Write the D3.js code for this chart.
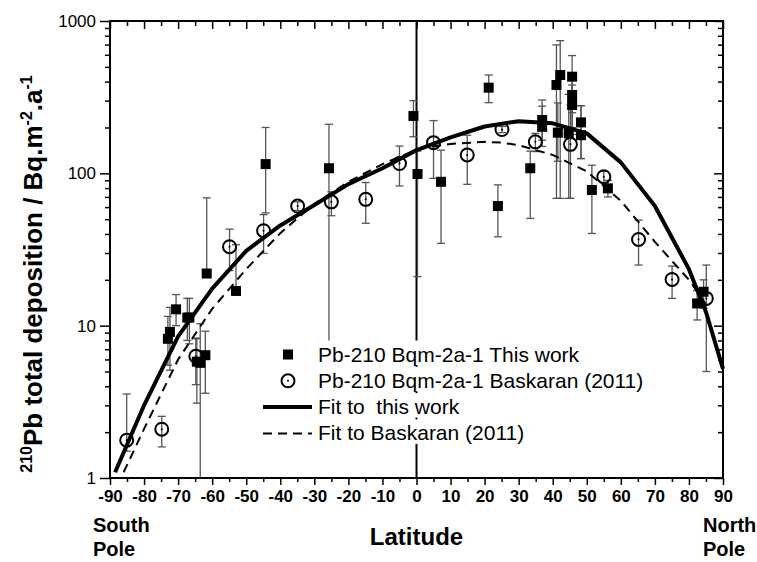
<!DOCTYPE html>
<html>
<head>
<meta charset="utf-8">
<script src="https://cdn.jsdelivr.net/npm/d3@7"></script>
<style>
    body { margin: 0; background: #fff; }
    svg text { font-family: Arial, "Liberation Sans", sans-serif; white-space: pre; }
</style>
</head>
<body>
<script>
// Pb-210 deposition measured in this work: [latitude, value, lower, upper]
const thisWork = [
    [-73.0, 8.2, 5.5, 11.5],
    [-72.4, 9.1, 5.1, 13.2],
    [-70.6, 12.8, 10.0, 16.0],
    [-67.3, 11.3, 8.0, 15.1],
    [-66.7, 11.3, 7.6, 15.1],
    [-64.5, 5.8, 3.1, 8.3],
    [-63.5, 5.7, 1.0, 10.3],
    [-62.0, 6.4, 3.6, 9.2],
    [-61.6, 22, 21, 69],
    [-53.0, 16.9, 16, 34],
    [-44.3, 115, 55, 200],
    [-25.7, 108, 7, 210],
    [-0.9, 238, 174, 300],
    [0.3, 99, 21, 140],
    [7.2, 88, 34.7, 142],
    [21.2, 365, 291, 442],
    [23.9, 61, 38.3, 84],
    [33.4, 108, 50.6, 140],
    [36.9, 224, 165, 303],
    [36.9, 202, 150, 276],
    [41.1, 380, 68.5, 697],
    [41.5, 185, 120, 290],
    [42.2, 442, 68.5, 743],
    [44.7, 183, 68.5, 330],
    [45.7, 431, 250, 593],
    [45.7, 327, 200, 420],
    [45.7, 281, 180, 380],
    [48.3, 216, 125, 278],
    [48.3, 178, 125, 278],
    [51.5, 77.7, 40.3, 113],
    [56.2, 79.7, 70, 90],
    [82.4, 14, 10.9, 17],
    [84.3, 16.7, 13, 20]
];

// Baskaran (2011) compilation: [latitude, value, lower, upper]
const baskaran = [
    [-85.1, 1.77, 1.5, 3.56],
    [-74.8, 2.09, 1.6, 2.54],
    [-64.8, 6.3, 4.1, 8.2],
    [-54.9, 33, 23, 43],
    [-44.9, 42, 29.8, 53.6],
    [-34.9, 61, 57, 65],
    [-25.0, 65, 52.7, 75.7],
    [-14.9, 67.5, 47, 87],
    [-5.0, 116, 82.6, 151],
    [5.0, 159, 92.7, 222],
    [14.9, 132, 84.7, 178],
    [25.1, 194, 185, 203],
    [34.9, 161, 139, 183],
    [45.2, 155, 68.5, 280],
    [55.0, 95, 87, 103],
    [65.2, 36.8, 25, 49.3],
    [75.05, 20.1, 15.1, 24.6],
    [85.1, 15.1, 5.0, 25]
];

// fitted curves
const fitLat = [-88.5, -80, -70, -60, -50, -40, -30, -20, -10, 0, 10, 20, 30, 40, 50, 60, 70, 80, 85, 90];
const fitThisWork = [1.09, 3.0, 8.5, 17.5, 31, 45.5, 62, 85, 108, 142, 172, 203, 220, 213, 183, 118, 61, 23.5, 12.3, 5.2];

const fitBaskLat = [-86, -80, -70, -60, -50, -40, -30, -20, -10, 0, 5, 10, 20, 25, 30, 40, 50, 60, 70, 80, 85];
const fitBaskaran = [1.09, 2.1, 6.0, 12.9, 23.5, 40.5, 63, 88, 115, 143, 150, 156, 161, 159, 153, 132, 103, 66, 35.5, 20, 13.8];

const xTicks = d3.range(-90, 91, 10);
const yTicks = [1, 10, 100, 1000];

const legendLabels = [
    'Pb-210 Bqm-2a-1 This work',
    'Pb-210 Bqm-2a-1 Baskaran (2011)',
    'Fit to  this work',
    'Fit to Baskaran (2011)'
];

drawChart();

function drawChart()
{
    const width = 757;
    const height = 562;
    const margin = {top: 21, right: 34, bottom: 84, left: 110};
    const innerW = width - margin.left - margin.right;
    const innerH = height - margin.top - margin.bottom;

    const svg = d3.select('body')
        .append('svg')
        .attr('width', width)
        .attr('height', height);

    const x = d3.scaleLinear().domain([-90, 90]).range([margin.left, margin.left + innerW]);
    const y = d3.scaleLog().domain([1, 1000]).range([margin.top + innerH, margin.top]);

    const minorY = [];
    [1, 10, 100].forEach(d => { for (let k = 2; k <= 9; k++) minorY.push(d * k); });
    const minorX = d3.range(-85, 90, 10);

    // axes
    const bottom = svg.append('g')
        .attr('transform', `translate(0,${margin.top + innerH})`)
        .call(d3.axisBottom(x).tickValues(xTicks).tickSize(7).tickSizeOuter(0).tickPadding(5));
    bottom.selectAll('text')
        .attr('font-size', 17)
        .attr('font-weight', 'bold')
        .attr('font-family', 'Arial, "Liberation Sans", sans-serif')
        .text(d => d);
    svg.append('g')
        .attr('transform', `translate(0,${margin.top + innerH})`)
        .call(d3.axisBottom(x).tickValues(minorX).tickSize(4).tickSizeOuter(0).tickFormat(''));

    svg.append('g')
        .attr('transform', `translate(0,${margin.top})`)
        .call(d3.axisTop(x).tickValues(xTicks).tickSize(-8).tickSizeOuter(0).tickFormat(''));
    svg.append('g')
        .attr('transform', `translate(0,${margin.top})`)
        .call(d3.axisTop(x).tickValues(minorX).tickSize(-5).tickSizeOuter(0).tickFormat(''));

    const left = svg.append('g')
        .attr('transform', `translate(${margin.left},0)`)
        .call(d3.axisLeft(y).tickValues(yTicks).tickSize(10).tickSizeOuter(0).tickFormat(d3.format('d')).tickPadding(4));
    left.selectAll('text')
        .attr('font-size', 17)
        .attr('font-family', 'Arial, "Liberation Sans", sans-serif');
    svg.append('g')
        .attr('transform', `translate(${margin.left},0)`)
        .call(d3.axisLeft(y).tickValues(minorY).tickSize(5).tickSizeOuter(0).tickFormat(''));

    svg.append('g')
        .attr('transform', `translate(${margin.left + innerW},0)`)
        .call(d3.axisRight(y).tickValues(yTicks).tickSize(-9).tickSizeOuter(0).tickFormat(''));
    svg.append('g')
        .attr('transform', `translate(${margin.left + innerW},0)`)
        .call(d3.axisRight(y).tickValues(minorY).tickSize(-5).tickSizeOuter(0).tickFormat(''));

    svg.selectAll('.domain').remove();
    svg.selectAll('.tick line').attr('stroke', '#000').attr('stroke-width', 1.5);

    // frame
    svg.append('rect')
        .attr('x', margin.left)
        .attr('y', margin.top)
        .attr('width', innerW)
        .attr('height', innerH)
        .attr('fill', 'none')
        .attr('stroke', '#000')
        .attr('stroke-width', 2);

    // zero latitude line
    svg.append('line')
        .attr('x1', x(0)).attr('x2', x(0))
        .attr('y1', margin.top).attr('y2', margin.top + innerH)
        .attr('stroke', '#000')
        .attr('stroke-width', 2);

    // error bars
    const errG = svg.append('g')
        .attr('stroke', '#555')
        .attr('stroke-width', 1.3)
        .attr('fill', 'none');
    const allPoints = thisWork.concat(baskaran);
    allPoints.forEach(d =>
    {
        const cx = x(d[0]);
        const lo = y(Math.max(1, d[2]));
        const hi = y(d[3]);
        errG.append('line').attr('x1', cx).attr('x2', cx).attr('y1', lo).attr('y2', hi);
        errG.append('line').attr('x1', cx - 4).attr('x2', cx + 4).attr('y1', hi).attr('y2', hi);
        if (d[2] > 1)
        {
            errG.append('line').attr('x1', cx - 4).attr('x2', cx + 4).attr('y1', lo).attr('y2', lo);
        }
    });

    // Baskaran circles
    const circG = svg.append('g');
    circG.selectAll('circle.outer')
        .data(baskaran)
        .enter()
        .append('circle')
        .attr('class', 'outer')
        .attr('cx', d => x(d[0]))
        .attr('cy', d => y(d[1]))
        .attr('r', 6.5)
        .attr('fill', 'none')
        .attr('stroke', '#000')
        .attr('stroke-width', 2);
    circG.selectAll('circle.dot')
        .data(baskaran)
        .enter()
        .append('circle')
        .attr('class', 'dot')
        .attr('cx', d => x(d[0]))
        .attr('cy', d => y(d[1]))
        .attr('r', 1)
        .attr('fill', '#000');

    // this work squares
    svg.append('g')
        .selectAll('rect')
        .data(thisWork)
        .enter()
        .append('rect')
        .attr('x', d => x(d[0]) - 5)
        .attr('y', d => y(d[1]) - 5)
        .attr('width', 10)
        .attr('height', 10)
        .attr('fill', '#000');

    // fit lines
    const line = d3.line()
        .x(d => x(d[0]))
        .y(d => y(d[1]));

    svg.append('path')
        .datum(d3.zip(fitBaskLat, fitBaskaran))
        .attr('d', line)
        .attr('fill', 'none')
        .attr('stroke', '#000')
        .attr('stroke-width', 2)
        .attr('stroke-dasharray', '9,6');

    svg.append('path')
        .datum(d3.zip(fitLat, fitThisWork))
        .attr('d', line)
        .attr('fill', 'none')
        .attr('stroke', '#000')
        .attr('stroke-width', 4)
        .attr('stroke-linejoin', 'round');

    // legend
    const legend = svg.append('g');
    const rowBase = [361.5, 387.8, 414.1, 440.4];
    legendLabels.forEach((label, i) =>
    {
        const base = rowBase[i];
        const t = legend.append('text')
            .attr('x', 318)
            .attr('y', base)
            .attr('font-size', 21)
            .text(label);
        const w = t.node().getComputedTextLength();
        legend.insert('rect', 'text')
            .attr('x', 316)
            .attr('y', base - 21)
            .attr('width', w + 4)
            .attr('height', 24.5)
            .attr('fill', '#fff');

        const cy = base - 7;
        if (i === 0)
        {
            legend.append('rect').attr('x', 283).attr('y', cy - 5).attr('width', 10).attr('height', 10).attr('fill', '#000');
        }
        else if (i === 1)
        {
            legend.append('circle').attr('cx', 288).attr('cy', cy).attr('r', 6.5)
                .attr('fill', 'none').attr('stroke', '#000').attr('stroke-width', 2);
            legend.append('circle').attr('cx', 288).attr('cy', cy).attr('r', 1).attr('fill', '#000');
        }
        else
        {
            legend.append('line')
                .attr('x1', 263).attr('x2', 312)
                .attr('y1', cy).attr('y2', cy)
                .attr('stroke', '#000')
                .attr('stroke-width', i === 2 ? 4 : 2)
                .attr('stroke-dasharray', i === 2 ? null : '9,6');
        }
    });

    // axis titles
    svg.append('text')
        .attr('x', x(0))
        .attr('y', 545)
        .attr('text-anchor', 'middle')
        .attr('font-size', 24)
        .attr('font-weight', 'bold')
        .text('Latitude');

    const south = svg.append('text').attr('font-size', 20).attr('font-weight', 'bold');
    south.append('tspan').attr('x', 93).attr('y', 532).text('South');
    south.append('tspan').attr('x', 93).attr('y', 556).text('Pole');

    const north = svg.append('text').attr('font-size', 20).attr('font-weight', 'bold');
    north.append('tspan').attr('x', 703).attr('y', 532).text('North');
    north.append('tspan').attr('x', 703).attr('y', 556).text('Pole');

    const yTitle = svg.append('text')
        .attr('transform', 'translate(42,274) rotate(-90)')
        .attr('text-anchor', 'middle')
        .attr('font-size', 26)
        .attr('font-weight', 'bold');
    yTitle.append('tspan').attr('font-size', 16).attr('dy', -10).text('210');
    yTitle.append('tspan').attr('dy', 10).text('Pb total deposition / Bq.m');
    yTitle.append('tspan').attr('font-size', 16).attr('dy', -10).text('-2');
    yTitle.append('tspan').attr('dy', 10).text('.a');
    yTitle.append('tspan').attr('font-size', 16).attr('dy', -10).text('-1');
}
</script>
</body>
</html>
